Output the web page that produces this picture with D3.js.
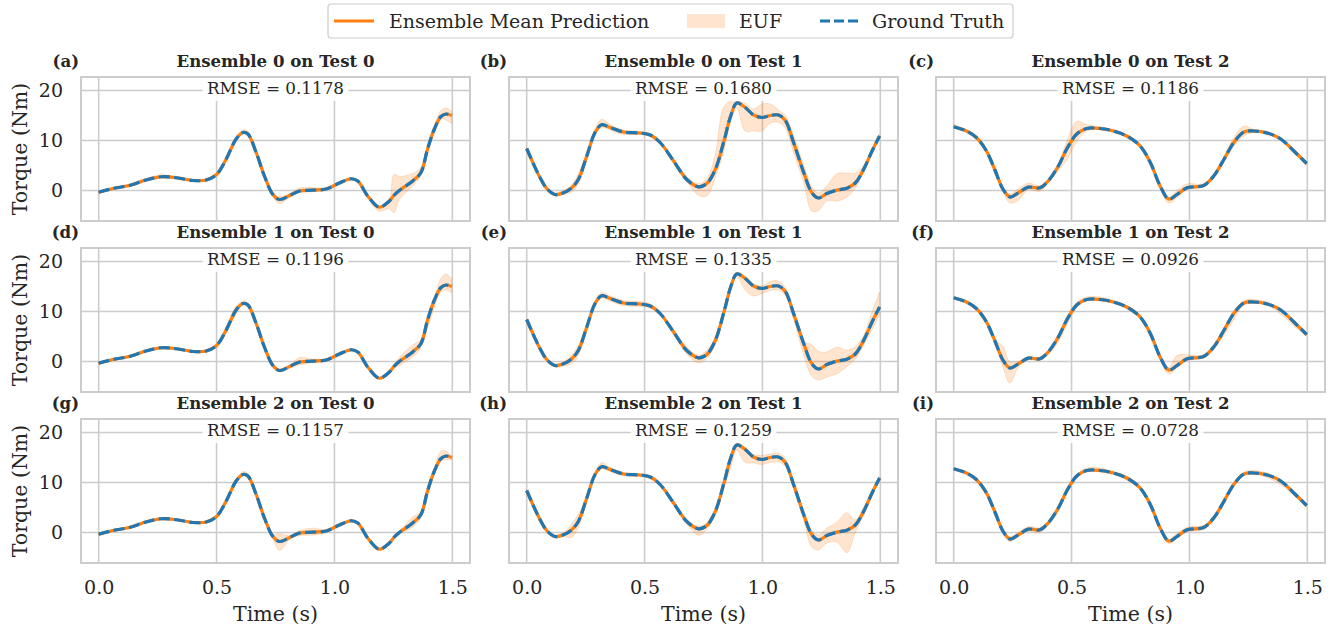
<!DOCTYPE html>
<html><head><meta charset="utf-8">
<script src="https://cdn.jsdelivr.net/npm/d3@7"></script>
<style>body{margin:0;background:#fff}svg{display:block}</style>
</head><body>
<svg id="chart" width="1340" height="629"></svg>
<script>
// ---------- data ----------
const timeTest0 = [0, 0.06, 0.13, 0.2, 0.266, 0.33, 0.40, 0.456, 0.5, 0.54, 0.583, 0.612, 0.633, 0.668, 0.703, 0.739, 0.767, 0.81, 0.852, 0.908, 0.965, 1.021, 1.071, 1.099, 1.141, 1.19, 1.233, 1.252, 1.275, 1.332, 1.367, 1.395, 1.424, 1.452, 1.473, 1.498];
const truthTest0 = [-0.34, 0.4, 1.0, 2.1, 2.75, 2.55, 2.0, 2.1, 3.2, 6.2, 10.3, 11.6, 11.3, 7.6, 2.9, -0.8, -1.8, -1.0, -0.1, 0.07, 0.3, 1.5, 2.35, 1.9, -1.1, -3.35, -2.1, -1.0, 0, 1.9, 3.6, 8.3, 12.3, 14.8, 15.3, 15.0];

const timeTest1 = [0, 0.028, 0.057, 0.085, 0.12, 0.156, 0.191, 0.219, 0.255, 0.29, 0.318, 0.354, 0.41, 0.481, 0.524, 0.566, 0.623, 0.679, 0.729, 0.764, 0.8, 0.835, 0.866, 0.891, 0.927, 0.962, 0.998, 1.033, 1.068, 1.097, 1.132, 1.175, 1.21, 1.238, 1.273, 1.316, 1.358, 1.394, 1.429, 1.465, 1.497];
const truthTest1 = [8.4, 5.4, 2.55, 0.4, -0.8, -0.47, 0.54, 2.2, 6.9, 11.6, 13.15, 12.6, 11.7, 11.5, 11.1, 9.6, 5.9, 2.2, 0.74, 1.4, 4.2, 9.6, 15.0, 17.5, 16.6, 15.1, 14.6, 15.0, 15.1, 14.0, 9.6, 3.6, -0.47, -1.5, -0.6, 0.07, 0.47, 1.5, 4.2, 7.9, 10.9];

const timeTest2 = [0, 0.054, 0.096, 0.139, 0.174, 0.21, 0.238, 0.274, 0.316, 0.366, 0.401, 0.444, 0.479, 0.522, 0.564, 0.621, 0.678, 0.734, 0.791, 0.834, 0.876, 0.912, 0.947, 0.99, 1.06, 1.103, 1.146, 1.188, 1.231, 1.273, 1.33, 1.387, 1.443, 1.497];
const truthTest2 = [12.75, 11.9, 10.6, 7.9, 4.2, 0.2, -1.3, -0.47, 0.67, 0.54, 1.9, 4.9, 8.25, 11.3, 12.4, 12.4, 11.9, 10.9, 8.9, 5.6, 0.87, -1.7, -0.8, 0.54, 1.0, 2.9, 6.2, 9.6, 11.7, 11.9, 11.5, 10.3, 7.9, 5.4];

// ensemble mean predictions coincide with the ground truth in the picture
const meanTest0 = truthTest0, meanTest1 = truthTest1, meanTest2 = truthTest2;

// EUF band: [below, above] the mean, per time point
const bandE0T0 = [[.2,.2],[.2,.2],[.2,.3],[.3,.3],[.3,.4],[.3,.3],[.2,.2],[.2,.2],[.2,.3],[.3,.3],[.3,.4],[.3,.6],[.3,.5],[.3,.3],[.3,.3],[.5,.4],[.8,.6],[.4,.4],[.3,.6],[.3,.5],[.2,.2],[.2,.2],[.2,.2],[.2,.2],[.3,.2],[.8,.3],[1.5,.5],[3.5,4.2],[1.8,2.8],[1.0,1.5],[.6,1.0],[.6,.8],[.5,.8],[.3,1.2],[1.2,1.2],[1.6,.8]];
const bandE1T0 = [[.2,.2],[.2,.2],[.2,.2],[.2,.2],[.2,.2],[.2,.2],[.2,.2],[.2,.2],[.2,.2],[.6,.8],[.8,.8],[.3,.5],[.3,.4],[.3,.3],[.3,.3],[.3,.3],[.3,.3],[.3,.3],[.6,.9],[.3,.4],[.2,.2],[.2,.2],[.2,.2],[.2,.2],[.2,.2],[.2,.2],[.2,.2],[.4,.4],[.8,.8],[1.0,1.4],[.8,.8],[1.5,.5],[1.5,.4],[.8,1.8],[1.0,2.2],[1.3,1.5]];
const bandE2T0 = [[.2,.2],[.2,.2],[.2,.2],[.2,.2],[.2,.2],[.2,.2],[.2,.2],[.2,.2],[.2,.2],[.2,.2],[.2,.2],[.3,.6],[.3,.4],[.2,.2],[.2,.2],[.5,.5],[1.8,1.6],[.4,.4],[.5,.5],[.6,.8],[.3,.3],[.2,.3],[.2,.3],[.2,.3],[.2,.3],[.2,.3],[.2,.3],[.3,.3],[.3,.3],[.8,1.2],[.5,.5],[.5,.5],[.5,.5],[.5,1.5],[.8,1.0],[.5,.3]];

const bandE0T1 = [[.2,.2],[.3,.3],[.3,.3],[.3,.3],[.3,.3],[.4,.5],[.8,.6],[1.0,1.2],[.5,.8],[.5,.8],[.5,1.1],[.5,.6],[.5,.4],[.3,.3],[.3,.3],[.3,.3],[.3,.4],[.4,.6],[1.7,.6],[2.5,1.0],[1.5,3.0],[2.0,7.0],[1.0,3.0],[1.0,.5],[4.7,.8],[3.2,1.2],[2.7,2.7],[1.5,2.3],[1.5,1.0],[1.5,1.0],[2.0,1.5],[2.0,1.5],[3.7,1.2],[2.5,1.0],[1.5,1.5],[2.2,3.3],[1.8,3.0],[1.0,2.0],[.5,.8],[.5,.5],[.3,.5]];
const bandE1T1 = [[.2,.2],[.3,.3],[.3,.3],[.3,.3],[.3,.3],[.4,.4],[1.0,.8],[1.0,1.0],[.5,.5],[.5,.5],[.4,.6],[.5,.5],[.5,.5],[.5,.5],[.4,.4],[.3,.3],[.4,.4],[.7,.7],[1.0,.5],[.8,.8],[.8,.8],[.6,.6],[.5,.6],[.5,.5],[2.3,.5],[2.0,.5],[1.0,.5],[.8,1.0],[.8,1.0],[.8,.8],[1.0,.8],[2.3,.5],[2.5,3.8],[2.2,3.5],[2.5,2.5],[2.5,2.8],[1.5,1.8],[1.0,1.5],[1.0,1.0],[1.5,2.0],[1.5,3.0]];
const bandE2T1 = [[.2,.2],[.2,.2],[.2,.2],[.2,.2],[.3,.3],[.4,.4],[1.5,1.2],[1.2,1.5],[.4,.4],[.4,.5],[.4,.8],[.4,.4],[.3,.3],[.3,.3],[.3,.3],[.3,.3],[.3,.3],[.4,.4],[1.3,.5],[.8,.5],[.5,.5],[.8,.5],[2.0,.5],[1.0,.4],[2.6,.5],[1.2,.5],[1.0,.8],[1.0,.7],[1.0,.7],[.8,.8],[.8,.8],[1.2,.8],[2.5,.8],[2.0,1.0],[1.5,1.5],[2.0,2.0],[4.5,3.5],[1.5,1.0],[.8,.8],[.5,.5],[.3,.3]];

const bandE0T2 = [[.3,.5],[.2,.2],[.2,.2],[.2,.2],[.2,.2],[.4,.4],[1.2,.6],[1.5,.8],[.5,.8],[.7,.4],[.3,.3],[.8,.5],[2.2,1.5],[1.5,2.5],[.5,.8],[.3,.3],[.3,.3],[.3,.3],[.3,.3],[.3,.3],[.4,.3],[.8,.3],[.7,.8],[.3,.8],[.3,.3],[.3,.3],[.5,.5],[.8,1.0],[.8,1.2],[.3,.3],[.3,.3],[.3,.3],[.3,.3],[.3,.3]];
const bandE1T2 = [[.2,.2],[.2,.2],[.2,.2],[.2,.2],[.3,.3],[1.5,2.8],[3.0,1.2],[.8,.5],[.3,.3],[.3,.3],[.5,.3],[1.0,.5],[1.0,.6],[.5,.5],[.3,.5],[.3,.5],[.3,.3],[.3,.3],[.3,.3],[.3,.3],[.3,.3],[.8,.5],[.5,2.0],[.3,.8],[.3,.3],[.3,.3],[1.0,.5],[1.2,.5],[.4,.5],[.3,.5],[.3,.4],[.8,.3],[.8,.3],[.3,.3]];
const bandE2T2 = [[.2,.2],[.2,.2],[.2,.2],[.2,.2],[.2,.2],[.3,.3],[.5,.4],[.4,.5],[.4,.5],[.5,.4],[.3,.3],[.6,.5],[.5,.5],[.3,.3],[.3,.5],[.3,.5],[.3,.3],[.4,.4],[.3,.3],[.3,.3],[.3,.3],[.5,.3],[.4,.6],[.4,.5],[.4,.4],[.3,.3],[.5,.5],[.3,.3],[.3,.3],[.3,.5],[.5,.4],[.7,.3],[.5,.3],[.3,.3]];

const rmseLabels = [["0.1178","0.1680","0.1186"],["0.1196","0.1335","0.0926"],["0.1157","0.1259","0.0728"]];
const panelLetters = ["a","b","c","d","e","f","g","h","i"];
const xTicks = [0, 0.5, 1.0, 1.5];
const yTicks = [0, 10, 20];
const legendLabels = ["Ensemble Mean Prediction", "EUF", "Ground Truth"];

// ---------- drawing ----------
const tests = [
  {time: timeTest0, truth: truthTest0, mean: meanTest0},
  {time: timeTest1, truth: truthTest1, mean: meanTest1},
  {time: timeTest2, truth: truthTest2, mean: meanTest2}
];
const bands = [[bandE0T0, bandE0T1, bandE0T2],[bandE1T0, bandE1T1, bandE1T2],[bandE2T0, bandE2T1, bandE2T2]];

const ORANGE = "#ff7f0e", BLUE = "#1f77b4", GRID = "#cccccc", TXT = "#262626";
const FONT = "'DejaVu Serif', serif";
const colLeft = [81, 509, 936], rowTop = [77, 248, 419];
const PW = 389, PH = 144;

const svg = d3.select("#chart");
const defs = svg.append("defs");

for (let r = 0; r < 3; r++) {
  for (let c = 0; c < 3; c++) {
    const L = colLeft[c], T = rowTop[r];
    const x = d3.scaleLinear().domain([-0.075, 1.575]).range([L, L + PW]);
    const y = d3.scaleLinear().domain([-6.1, 22.7]).range([T + PH, T]);
    const g = svg.append("g");
    const clipId = "clip" + r + c;
    defs.append("clipPath").attr("id", clipId).append("rect")
      .attr("x", L).attr("y", T).attr("width", PW).attr("height", PH);

    // grid
    g.selectAll(".gx").data(xTicks).join("line")
      .attr("x1", d => x(d)).attr("x2", d => x(d)).attr("y1", T).attr("y2", T + PH)
      .attr("stroke", GRID).attr("stroke-width", 1.6);
    g.selectAll(".gy").data(yTicks).join("line")
      .attr("class","gy")
      .attr("x1", L).attr("x2", L + PW).attr("y1", d => y(d)).attr("y2", d => y(d))
      .attr("stroke", GRID).attr("stroke-width", 1.6);

    const test = tests[c];
    const band = bands[r][c];
    const pts = test.time.map((t, i) => ({t, m: test.mean[i], g: test.truth[i], lo: band[i][0], hi: band[i][1]}));
    const plot = g.append("g").attr("clip-path", `url(#${clipId})`);

    const area = d3.area().x(d => x(d.t)).y0(d => y(d.m - d.lo)).y1(d => y(d.m + d.hi))
      .curve(d3.curveCatmullRom.alpha(0.5));
    plot.append("path").datum(pts).attr("d", area)
      .attr("fill", ORANGE).attr("fill-opacity", 0.2)
      .attr("stroke", ORANGE).attr("stroke-opacity", 0.2).attr("stroke-width", 1);

    const lineMean = d3.line().x(d => x(d.t)).y(d => y(d.m)).curve(d3.curveCatmullRom.alpha(0.5));
    const lineTruth = d3.line().x(d => x(d.t)).y(d => y(d.g)).curve(d3.curveCatmullRom.alpha(0.5));
    plot.append("path").datum(pts).attr("d", lineMean)
      .attr("fill", "none").attr("stroke", ORANGE).attr("stroke-width", 3.2);
    plot.append("path").datum(pts).attr("d", lineTruth)
      .attr("fill", "none").attr("stroke", BLUE).attr("stroke-width", 3.2)
      .attr("stroke-dasharray", "11,4.5");

    // RMSE label with white box
    const cx = L + PW / 2;
    g.append("rect").attr("x", cx - 73).attr("y", T + 1).attr("width", 146).attr("height", 23)
      .attr("fill", "#fff").attr("fill-opacity", 0.9);
    g.append("text").attr("x", cx).attr("y", T + 17.3).attr("text-anchor", "middle")
      .attr("font-family", FONT).attr("font-size", 16.8).attr("fill", TXT)
      .text("RMSE = " + rmseLabels[r][c]);

    // spines
    g.append("rect").attr("x", L).attr("y", T).attr("width", PW).attr("height", PH)
      .attr("fill", "none").attr("stroke", GRID).attr("stroke-width", 2);

    // title + panel letter
    g.append("text").attr("x", cx).attr("y", T - 10).attr("text-anchor", "middle")
      .attr("font-family", FONT).attr("font-weight", "bold").attr("font-size", 16.6)
      .attr("fill", TXT).text(`Ensemble ${r} on Test ${c}`);
    g.append("text").attr("x", L - 2).attr("y", T - 10).attr("text-anchor", "end")
      .attr("font-family", FONT).attr("font-weight", "bold").attr("font-size", 16.6)
      .attr("fill", TXT).text(`(${panelLetters[r * 3 + c]})`);

    // y axis (left column)
    if (c === 0) {
      const ya = d3.axisLeft(y).tickValues(yTicks).tickSize(0).tickPadding(18).tickFormat(d3.format("d"));
      const ag = g.append("g").attr("transform", `translate(${L},0)`).call(ya);
      ag.select(".domain").remove();
      ag.selectAll("text").attr("font-family", FONT).attr("font-size", 19).attr("fill", TXT);
      g.append("text").attr("transform", `translate(27,${T + PH / 2}) rotate(-90)`)
        .attr("text-anchor", "middle").attr("font-family", FONT).attr("font-size", 20.5)
        .attr("fill", TXT).text("Torque (Nm)");
    }
    // x axis (bottom row)
    if (r === 2) {
      const xa = d3.axisBottom(x).tickValues(xTicks).tickSize(0).tickPadding(18).tickFormat(d3.format(".1f"));
      const ag = g.append("g").attr("transform", `translate(0,${T + PH})`).call(xa);
      ag.select(".domain").remove();
      ag.selectAll("text").attr("font-family", FONT).attr("font-size", 19).attr("fill", TXT);
      g.append("text").attr("x", cx).attr("y", 621).attr("text-anchor", "middle")
        .attr("font-family", FONT).attr("font-size", 20.5).attr("fill", TXT).text("Time (s)");
    }
  }
}

// legend
const lg = svg.append("g");
lg.append("rect").attr("x", 328).attr("y", 4).attr("width", 685).attr("height", 34).attr("rx", 3)
  .attr("fill", "#fff").attr("stroke", "#cccccc").attr("stroke-width", 1.2);
const ly = 21;
lg.append("line").attr("x1", 334).attr("x2", 374).attr("y1", ly).attr("y2", ly)
  .attr("stroke", ORANGE).attr("stroke-width", 3);
lg.append("text").attr("x", 389).attr("y", ly + 6.5).attr("font-family", FONT).attr("font-size", 19)
  .attr("fill", TXT).text(legendLabels[0]);
lg.append("rect").attr("x", 687).attr("y", 14).attr("width", 38).attr("height", 14)
  .attr("fill", ORANGE).attr("fill-opacity", 0.2);
lg.append("text").attr("x", 739).attr("y", ly + 6.5).attr("font-family", FONT).attr("font-size", 19)
  .attr("fill", TXT).text(legendLabels[1]);
lg.append("line").attr("x1", 820).attr("x2", 858).attr("y1", ly).attr("y2", ly)
  .attr("stroke", BLUE).attr("stroke-width", 3).attr("stroke-dasharray", "10,4");
lg.append("text").attr("x", 872).attr("y", ly + 6.5).attr("font-family", FONT).attr("font-size", 19)
  .attr("fill", TXT).text(legendLabels[2]);
</script>
</body></html>
